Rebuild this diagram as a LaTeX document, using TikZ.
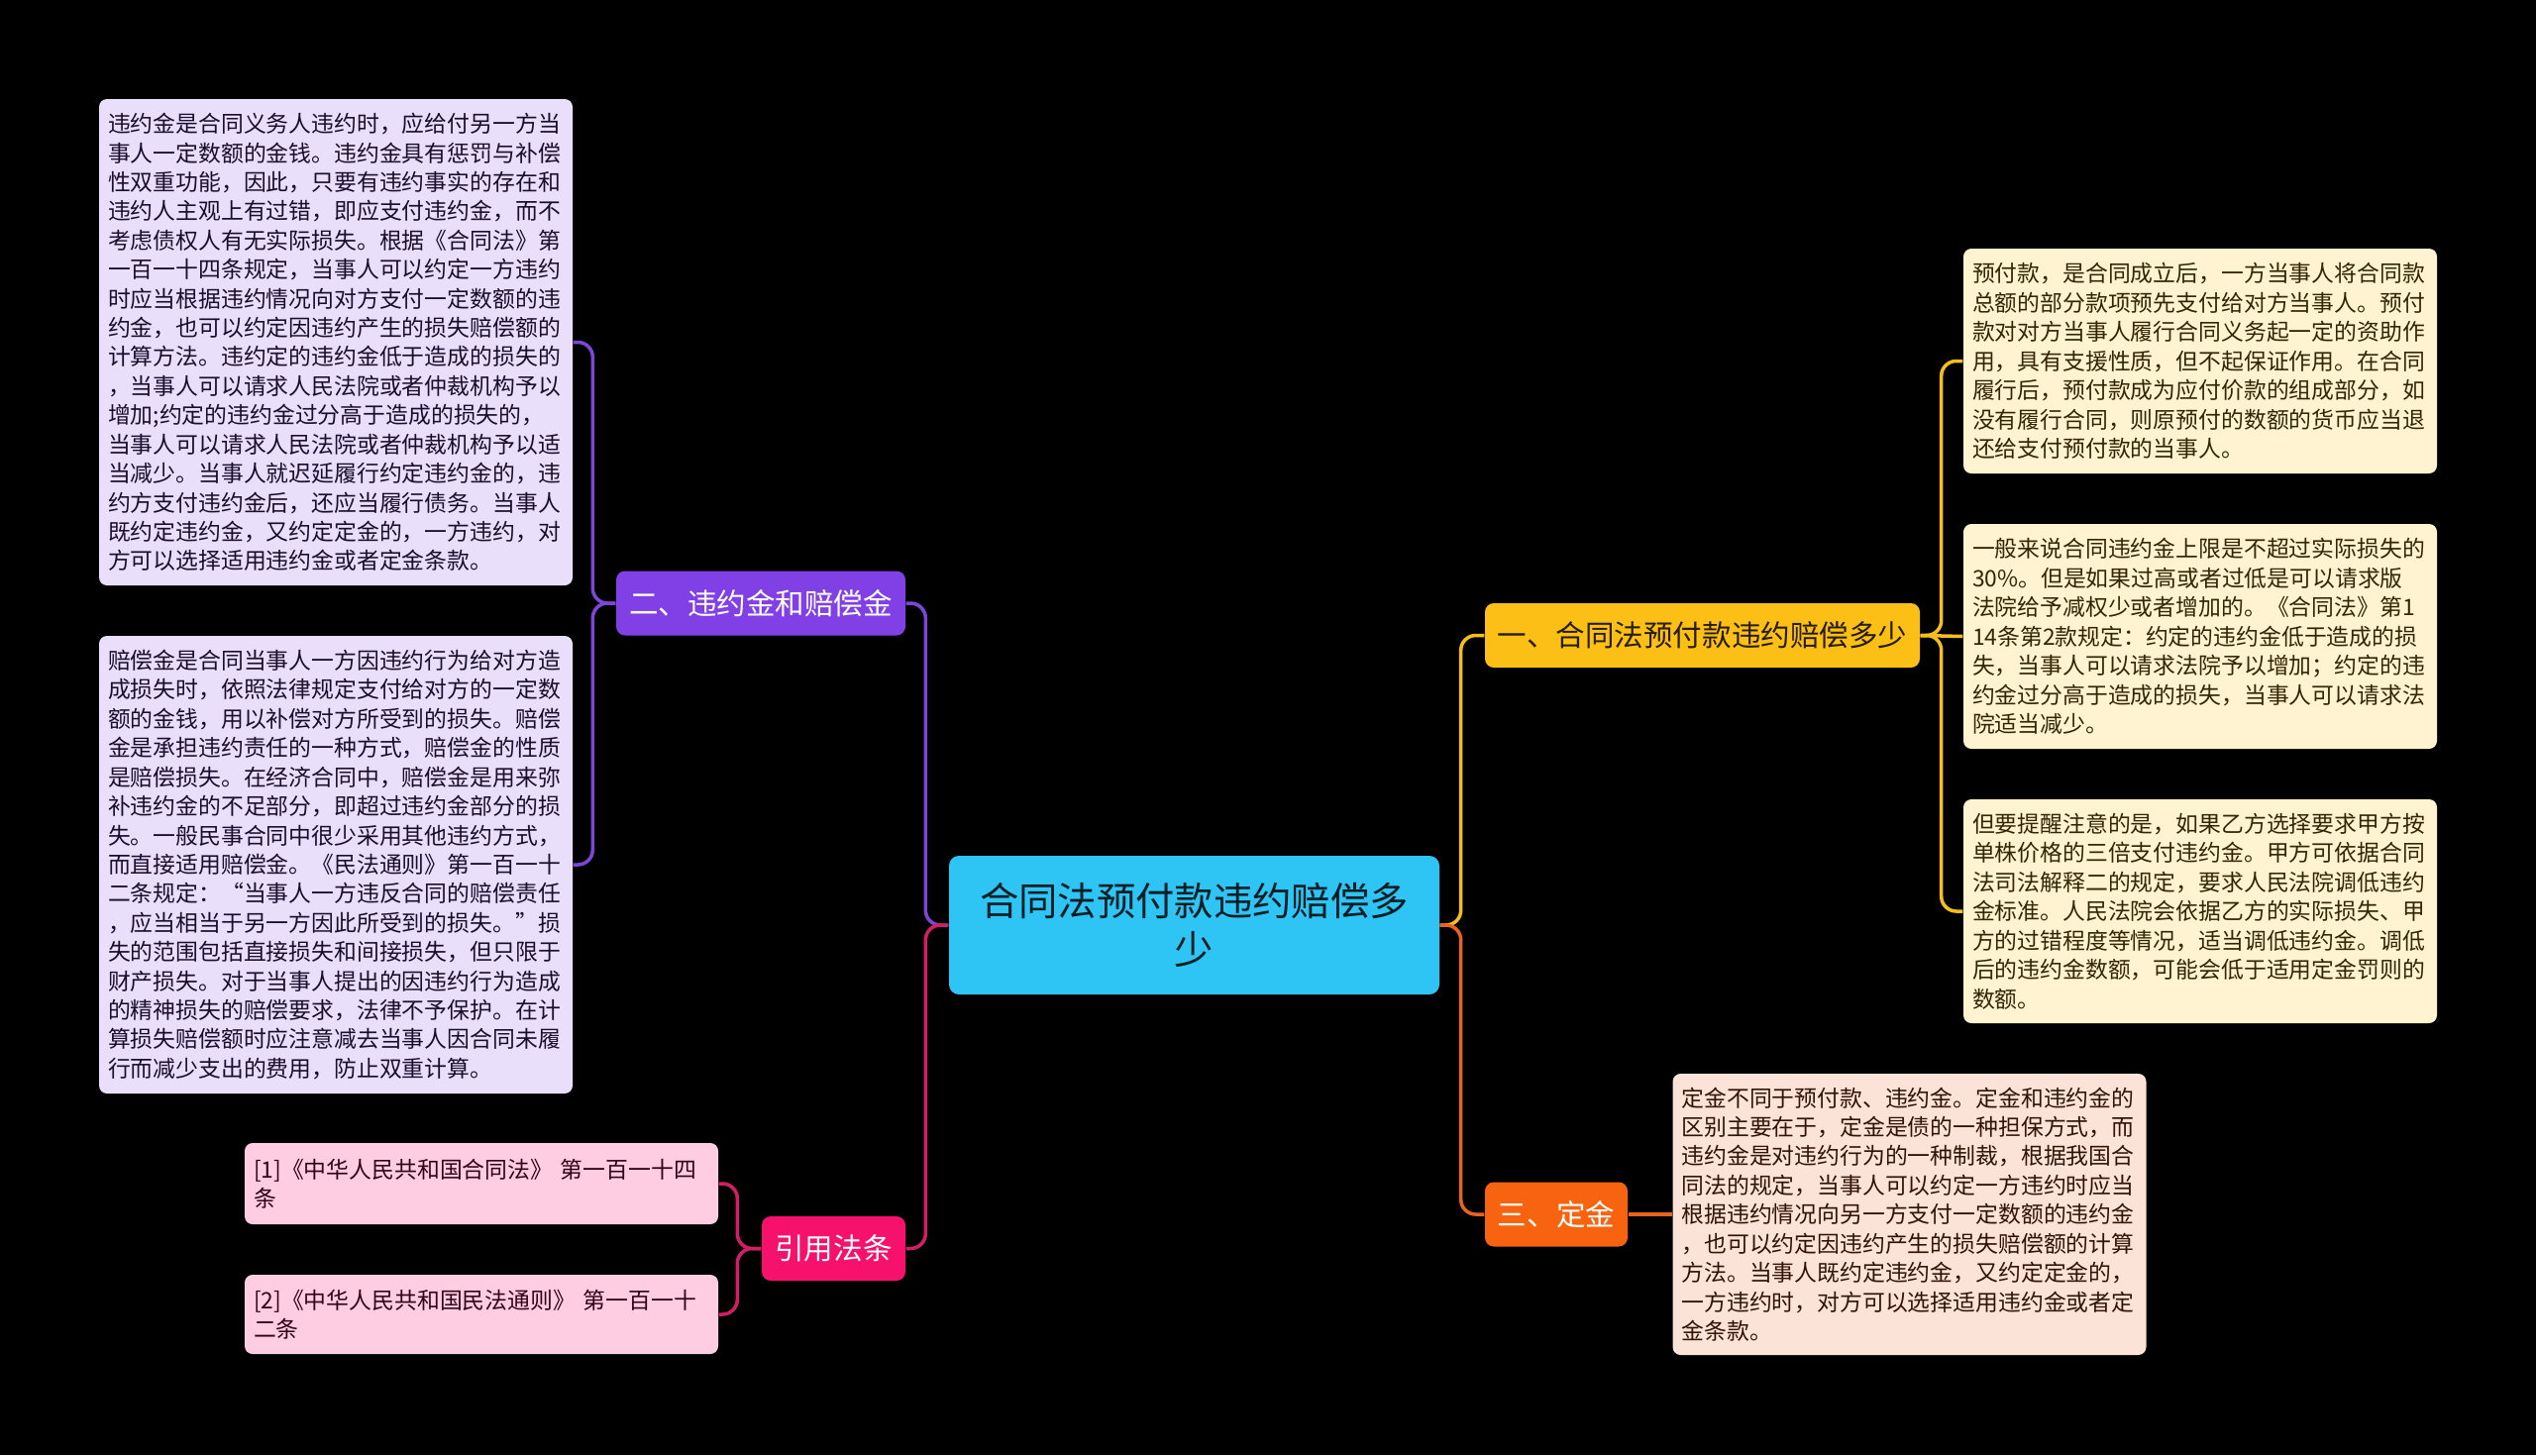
\documentclass[tikz,border=0pt]{standalone}
\usepackage{fontspec}
\setmainfont{Noto Sans CJK SC}
\usepackage{xcolor}
\usetikzlibrary{positioning, calc}
\definecolor{MapCyan}{HTML}{2EC5F4}
\definecolor{MapGold}{HTML}{FCBF15}
\definecolor{MapPurple}{HTML}{8140E6}
\definecolor{MapOrange}{HTML}{F7630F}
\definecolor{MapPink}{HTML}{F5116C}
\definecolor{LineGold}{HTML}{F4BE1E}
\definecolor{LinePurple}{HTML}{7D46D6}
\definecolor{LineOrange}{HTML}{E8631E}
\definecolor{LinePink}{HTML}{D21E64}
\definecolor{LeafLilac}{HTML}{EADFFB}
\definecolor{LeafCream}{HTML}{FFF3D2}
\definecolor{LeafPeach}{HTML}{FCE3D8}
\definecolor{LeafRose}{HTML}{FFCDE2}

\begin{document}
\begin{tikzpicture}[
    leaf/.style={rounded corners=0.08cm, minimum width=4.78cm, text width=4.6cm, align=left, inner xsep=0.09cm, inner ysep=0.08cm, font=\fontsize{6.5pt}{8.37pt}\selectfont, anchor=center},
    branch/.style={rounded corners=0.09cm, minimum height=0.65cm, inner xsep=0.12cm, font=\fontsize{8.4pt}{10pt}\selectfont, text=white, anchor=center},
    link/.style={line width=1pt, rounded corners=0.15cm}
]
\fill[black] (0,0) rectangle (25.6,-14.69);
\useasboundingbox (0,0) rectangle (25.6,-14.69);

% Centre
\node[fill=MapCyan, rounded corners=0.1cm, minimum width=4.95cm, minimum height=1.4cm, align=center, text=black!85!MapCyan, font=\fontsize{11.2pt}{13.9pt}\selectfont] (root) at (12.055,-9.34) {合同法预付款违约赔偿多\\少};

% Main branches
\node[branch, fill=MapGold, text=black!85!MapGold, minimum width=4.39cm] (sec1) at (17.185,-6.415) {一、合同法预付款违约赔偿多少};
\node[branch, fill=MapPurple, minimum width=2.92cm] (sec2) at (7.68,-6.09) {二、违约金和赔偿金};
\node[branch, fill=MapOrange, minimum width=1.44cm] (sec3) at (15.71,-12.26) {三、定金};
\node[branch, fill=MapPink, minimum width=1.45cm] (cite) at (8.415,-12.605) {引用法条};

% Left leaves
\node[leaf, fill=LeafLilac, text=black!80!MapPurple, minimum height=4.91cm] (penalty) at (3.39,-3.455) {违约金是合同义务人违约时，应给付另一方当\\事人一定数额的金钱。违约金具有惩罚与补偿\\性双重功能，因此，只要有违约事实的存在和\\违约人主观上有过错，即应支付违约金，而不\\考虑债权人有无实际损失。根据《合同法》第\\一百一十四条规定，当事人可以约定一方违约\\时应当根据违约情况向对方支付一定数额的违\\约金，也可以约定因违约产生的损失赔偿额的\\计算方法。违约定的违约金低于造成的损失的\\，当事人可以请求人民法院或者仲裁机构予以\\增加;约定的违约金过分高于造成的损失的，\\当事人可以请求人民法院或者仲裁机构予以适\\当减少。当事人就迟延履行约定违约金的，违\\约方支付违约金后，还应当履行债务。当事人\\既约定违约金，又约定定金的，一方违约，对\\方可以选择适用违约金或者定金条款。};
\node[leaf, fill=LeafLilac, text=black!80!MapPurple, minimum height=4.62cm] (damages) at (3.39,-8.73) {赔偿金是合同当事人一方因违约行为给对方造\\成损失时，依照法律规定支付给对方的一定数\\额的金钱，用以补偿对方所受到的损失。赔偿\\金是承担违约责任的一种方式，赔偿金的性质\\是赔偿损失。在经济合同中，赔偿金是用来弥\\补违约金的不足部分，即超过违约金部分的损\\失。一般民事合同中很少采用其他违约方式，\\而直接适用赔偿金。《民法通则》第一百一十\\二条规定：“当事人一方违反合同的赔偿责任\\，应当相当于另一方因此所受到的损失。”损\\失的范围包括直接损失和间接损失，但只限于\\财产损失。对于当事人提出的因违约行为造成\\的精神损失的赔偿要求，法律不予保护。在计\\算损失赔偿额时应注意减去当事人因合同未履\\行而减少支出的费用，防止双重计算。};
\node[leaf, fill=LeafRose, text=black!80!MapPink, minimum height=0.82cm] (ref1) at (4.86,-11.95) {[1]《中华人民共和国合同法》 第一百一十四\\条};
\node[leaf, fill=LeafRose, text=black!80!MapPink, minimum height=0.80cm] (ref2) at (4.86,-13.27) {[2]《中华人民共和国民法通则》 第一百一十\\二条};

% Right leaves
\node[leaf, fill=LeafCream, text=black!80!MapGold, minimum height=2.27cm] (prepay) at (22.21,-3.645) {预付款，是合同成立后，一方当事人将合同款\\总额的部分款项预先支付给对方当事人。预付\\款对对方当事人履行合同义务起一定的资助作\\用，具有支援性质，但不起保证作用。在合同\\履行后，预付款成为应付价款的组成部分，如\\没有履行合同，则原预付的数额的货币应当退\\还给支付预付款的当事人。};
\node[leaf, fill=LeafCream, text=black!80!MapGold, minimum height=2.27cm] (limit) at (22.21,-6.425) {一般来说合同违约金上限是不超过实际损失的\\30\%。但是如果过高或者过低是可以请求版\\法院给予减权少或者增加的。《合同法》第1\\14条第2款规定：约定的违约金低于造成的损\\失，当事人可以请求法院予以增加；约定的违\\约金过分高于造成的损失，当事人可以请求法\\院适当减少。};
\node[leaf, fill=LeafCream, text=black!80!MapGold, minimum height=2.26cm] (caution) at (22.21,-9.20) {但要提醒注意的是，如果乙方选择要求甲方按\\单株价格的三倍支付违约金。甲方可依据合同\\法司法解释二的规定，要求人民法院调低违约\\金标准。人民法院会依据乙方的实际损失、甲\\方的过错程度等情况，适当调低违约金。调低\\后的违约金数额，可能会低于适用定金罚则的\\数额。};
\node[leaf, fill=LeafPeach, text=black!80!MapOrange, minimum height=2.84cm] (deposit) at (19.275,-12.26) {定金不同于预付款、违约金。定金和违约金的\\区别主要在于，定金是债的一种担保方式，而\\违约金是对违约行为的一种制裁，根据我国合\\同法的规定，当事人可以约定一方违约时应当\\根据违约情况向另一方支付一定数额的违约金\\，也可以约定因违约产生的损失赔偿额的计算\\方法。当事人既约定违约金，又约定定金的，\\一方违约时，对方可以选择适用违约金或者定\\金条款。};

% Connectors
\draw[link, LineGold] (root.east) -- ++(0.21,0) |- (sec1.west);
\draw[link, LineOrange] (root.east) -- ++(0.21,0) |- (sec3.west);
\draw[link, LinePurple] (root.west) -- ++(-0.23,0) |- (sec2.east);
\draw[link, LinePink] (root.west) -- ++(-0.23,0) |- (cite.east);

\draw[link, LinePurple] (sec2.west) -- ++(-0.23,0) |- (penalty.east);
\draw[link, LinePurple] (sec2.west) -- ++(-0.23,0) |- (damages.east);
\draw[link, LineGold] (sec1.east) -- ++(0.21,0) |- (prepay.west);
\draw[link, LineGold] (sec1.east) -- (limit.west);
\draw[link, LineGold] (sec1.east) -- ++(0.21,0) |- (caution.west);
\draw[link, LineOrange] (sec3.east) -- (deposit.west);
\draw[link, LinePink] (cite.west) -- ++(-0.24,0) |- (ref1.east);
\draw[link, LinePink] (cite.west) -- ++(-0.24,0) |- (ref2.east);

\end{tikzpicture}
\end{document}
